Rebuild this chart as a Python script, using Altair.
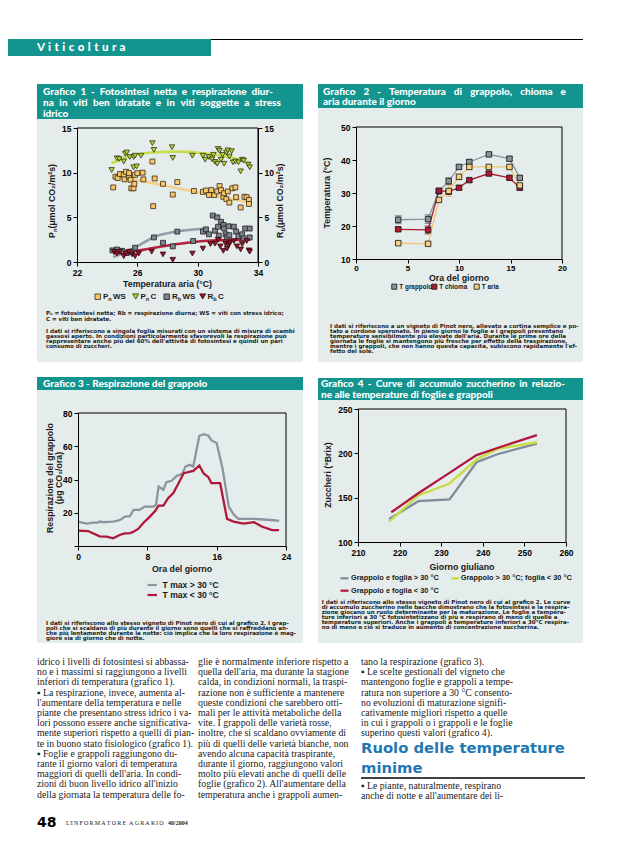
import altair as alt
import pandas as pd

W, H = 622, 832
M = 8


def P(v):
    return v - M


TEAL = "#14948e"
PANEL = "#e4ecec"
INK = "#1a1a1a"
SANS = "Liberation Sans, Arial, DejaVu Sans, sans-serif"
HEAVY = "Lato, DejaVu Sans, sans-serif"
DJB = "DejaVu Sans, sans-serif"
SERIF = "Liberation Serif, DejaVu Serif, serif"
NB = "\u00a0"
TH = "\u2009"
HA = "\u200a"
ONE = alt.Data(values=[{}])

# ---------------- Grafico 1 data ----------------
g1_pn_ws_temp = [24.4, 24.55, 24.7, 24.85, 25.1, 25.15, 25.25, 25.45, 25.45, 25.55, 25.6, 25.75,
                 25.8, 25.85, 26.0, 26.35, 26.4, 27.0, 27.05, 27.15, 27.7, 28.35, 28.65, 29.75,
                 30.35, 30.55, 30.75, 30.9, 31.1, 31.3, 31.45, 31.55, 31.7, 31.75, 31.9, 32.0,
                 32.1, 32.3, 32.5, 32.55, 32.85, 33.1, 33.25, 33.4, 33.4]
g1_pn_ws_val = [8.35, 9.55, 9.4, 9.85, 9.75, 9.25, 10.1, 9.55, 9.95, 9.2, 8.25, 8.25,
                8.75, 9.75, 9.95, 10.0, 9.25, 11.25, 6.25, 9.35, 8.75, 7.55, 8.95, 7.95,
                7.85, 8.0, 7.5, 8.05, 7.5, 7.9, 8.5, 8.05, 7.3, 7.7, 7.05, 7.9,
                6.65, 8.25, 8.35, 7.25, 6.1, 7.3, 7.25, 6.95, 6.5]
g1_pn_c_temp = [24.3, 24.65, 24.8, 25.1, 25.2, 25.3, 25.5, 25.75, 25.85, 25.75, 25.95, 26.25,
                27.0, 27.1, 28.3, 28.35, 29.65, 30.35, 30.5, 30.75, 30.95, 31.05, 31.15, 31.3,
                31.35, 31.45, 31.55, 31.65, 31.75, 31.9, 32.0, 32.1, 32.25, 32.35, 32.5, 32.7,
                32.85, 32.95, 33.05, 33.35, 33.45]
g1_pn_c_val = [10.3, 11.6, 11.55, 11.25, 12.1, 12.25, 11.75, 11.75, 11.9, 10.6, 10.7, 11.9,
               13.3, 12.55, 12.85, 11.65, 11.9, 11.9, 11.45, 11.75, 11.5, 12.0, 11.2, 11.0,
               12.65, 12.45, 11.45, 12.0, 11.0, 12.25, 12.5, 11.8, 12.4, 11.15, 11.25, 11.15,
               10.15, 11.45, 11.35, 10.9, 10.6]
g1_rb_ws_temp = [24.35, 24.65, 25.0, 25.3, 25.55, 25.85, 27.1, 27.7, 28.35, 28.65, 29.7, 30.35,
                 30.55, 30.75, 31.0, 31.15, 31.3, 31.35, 31.4, 31.55, 31.7, 31.75, 31.85, 31.95,
                 32.05, 32.1, 32.4, 32.55, 32.7, 32.95, 33.05, 33.15, 33.45, 33.45]
g1_rb_ws_val = [1.3, 1.4, 1.25, 1.0, 1.15, 1.6, 2.75, 2.15, 1.75, 3.4, 2.35, 3.4,
                3.65, 3.1, 5.2, 3.5, 5.0, 3.95, 2.95, 4.5, 4.15, 3.75, 3.1, 2.8,
                4.0, 3.0, 3.95, 3.4, 2.9, 3.1, 2.65, 3.75, 3.75, 2.75]
g1_rb_c_temp = [24.45, 24.65, 24.85, 25.1, 25.25, 25.45, 25.65, 25.85, 26.1, 26.95, 27.7, 28.35,
                29.65, 30.35, 30.85, 31.15, 31.35, 31.5, 31.7, 31.85, 31.95, 32.05, 32.15, 32.4,
                32.6, 32.85, 32.95, 33.25, 33.4, 33.45]
g1_rb_c_val = [1.15, 0.95, 1.15, 0.65, 0.95, 1.15, 0.85, 0.65, 0.95, 1.15, 0.85, 0.25,
               0.95, 1.5, 2.0, 2.05, 2.5, 1.75, 1.25, 2.05, 1.5, 1.9, 2.15, 2.35,
               1.75, 1.4, 2.0, 2.35, 1.3, 1.15]
# trend curves
g1_fit_pn_c_t = [24.3, 25.5, 27.0, 28.6, 30.2, 31.9, 33.5]
g1_fit_pn_c_v = [11.05, 11.85, 12.25, 12.35, 12.2, 11.8, 11.05]
g1_fit_pn_ws_t = [24.9, 26.0, 27.5, 29.3, 30.8, 32.4, 33.5]
g1_fit_pn_ws_v = [9.55, 9.15, 8.65, 8.05, 7.5, 7.0, 6.65]
g1_fit_rb_ws_t = [24.4, 25.5, 26.3, 27.1, 28.4, 29.5, 30.5]
g1_fit_rb_ws_v = [0.55, 1.3, 2.05, 2.8, 3.35, 3.6, 3.75]
g1_fit_rb_c_t = [24.4, 26.0, 27.5, 29.3, 31.0, 33.5]
g1_fit_rb_c_v = [0.95, 1.25, 1.7, 2.15, 2.4, 2.5]
g1_xticks = [22, 26, 30, 34]
g1_yticks = [0, 5, 10, 15]

# ---------------- Grafico 2 data ----------------
g2_hour = [4.1, 7.0, 8.05, 9.0, 10.0, 11.0, 12.9, 14.9, 15.9]
g2_t_grappolo = [21.9, 22.1, 30.5, 33.6, 37.9, 39.4, 41.7, 40.4, 34.6]
g2_t_chioma = [19.0, 18.8, 30.7, 30.4, 31.6, 33.9, 35.9, 34.6, 31.6]
g2_t_aria = [14.8, 14.6, 27.9, 30.6, 34.9, 37.9, 37.9, 37.9, 32.3]
# half-widths of the error bars (estimated from the figure)
g2_err_grappolo = [1.2, 1.3, 0.6, 1.0, 0.6, 0.7, 0.6, 0.6, 0.7]
g2_err_chioma = [0.5, 1.2, 0.5, 0.5, 0.6, 0.5, 0.5, 0.5, 0.6]
g2_err_aria = [0.4, 0.4, 0.5, 1.6, 0.8, 0.8, 0.4, 0.5, 0.6]
g2_xticks = [0, 5, 10, 15, 20]
g2_yticks = [10, 20, 30, 40, 50]

# ---------------- Grafico 3 data ----------------
g3_hour_hot = [0, 0.97, 1.75, 2.3, 2.5, 2.9, 3.5, 4.05, 4.6, 5.0, 5.4, 6.0, 6.4, 7.1, 7.7, 8.7, 9.0,
               9.3, 9.85, 10.2, 10.8, 11.4, 12.0, 12.4, 12.9, 13.3, 14.0, 14.5, 15.05, 15.4, 16.0,
               16.7, 17.4, 17.95, 18.5, 20.3, 21.0, 22.6, 23.2]
g3_resp_hot = [14.7, 13.5, 14.1, 14.1, 14.7, 14.3, 14.5, 14.7, 15.3, 16.1, 17.7, 17.9, 21.7, 21.7,
               23.7, 23.7, 24.7, 35.8, 33.8, 38.4, 39.2, 42.2, 43.2, 47.8, 48.8, 47.8, 66.3, 67.3,
               66.3, 63.5, 61.9, 46.0, 23.7, 19.1, 16.3, 16.3, 16.1, 15.5, 15.1]
g3_hour_cool = [0, 1.16, 2.5, 3.3, 4.05, 4.8, 5.4, 6.0, 6.4, 6.95, 7.5, 8.3, 8.9, 9.3, 9.85, 10.4,
                11.0, 11.6, 12.2, 12.7, 13.3, 14.0, 14.5, 15.05, 15.4, 16.4, 17.2, 17.95, 19.1,
                20.3, 21.2, 22.4, 23.2]
g3_resp_cool = [9.2, 9.0, 5.8, 5.6, 4.6, 6.6, 7.6, 7.8, 8.6, 10.3, 13.7, 17.7, 21.1, 24.3, 24.3,
                28.8, 31.8, 37.8, 43.8, 44.4, 45.2, 48.4, 43.6, 41.4, 37.8, 37.8, 16.3, 14.7, 13.5,
                14.3, 11.7, 9.6, 9.6]
g3_xticks = [0, 8, 16, 24]
g3_yticks = [0, 20, 40, 60, 80]

# ---------------- Grafico 4 data ----------------
g4_day_hot = [217.5, 224.5, 232, 238.5, 243.5, 253]
g4_brix_hot = [126, 146, 148, 190, 199, 211]
g4_day_mix = [217.5, 224.5, 232, 238.5, 243.5, 253]
g4_brix_mix = [123, 152.5, 166, 193, 205, 212.5]
g4_day_cool = [218, 224.5, 232, 238.5, 243.5, 253]
g4_brix_cool = [133.5, 155, 178, 198, 206, 220.5]
g4_xticks = [210, 220, 230, 240, 250, 260]
g4_yticks = [100, 150, 200, 250]


# ---------------- helpers ----------------
def rect(x0, y0, x1, y1, fill):
    return alt.Chart(ONE).mark_rect(fill=fill).encode(
        x=alt.value(P(x0)), x2=alt.value(P(x1)), y=alt.value(P(y0)), y2=alt.value(P(y1)))


def hline(x0, x1, y, color="black", sw=1.0):
    return alt.Chart(ONE).mark_rule(color=color, strokeWidth=sw).encode(
        x=alt.value(P(x0)), x2=alt.value(P(x1)), y=alt.value(P(y)))


def text(s, x, y, size=8.0, font=SANS, weight="normal", color=INK, align="left",
         angle=None, style=None):
    kw = dict(text=s, fontSize=size, font=font, fontWeight=weight, color=color,
              align=align, baseline="middle")
    if angle is not None:
        kw["angle"] = angle
    if style is not None:
        kw["fontStyle"] = style
    return alt.Chart(ONE).mark_text(**kw).encode(x=alt.value(P(x)), y=alt.value(P(y)))


def block(lines, x, y_first, lh, **kw):
    return [text(s, x, y_first + i * lh, **kw) for i, s in enumerate(lines)]


def justify(s, extra):
    return s.replace(" ", " " + extra)


def sym(x, y, shape, fill, stroke, size):
    return alt.Chart(ONE).mark_point(shape=shape, filled=True, fill=fill, stroke=stroke,
                                     strokeWidth=0.8, size=size, opacity=1).encode(
        x=alt.value(P(x)), y=alt.value(P(y)))


def axis(orient, values, offset, **kw):
    base = dict(orient=orient, values=values, offset=offset, title=None, grid=False,
                labelFont=SANS, labelFontSize=8.5, labelFontWeight="bold",
                labelColor="black", tickColor="black", domainColor="black",
                tickSize=4, labelPadding=2, labelOverlap=False, labelFlush=False,
                domainWidth=1, tickWidth=1, zindex=2)
    base.update(kw)
    return alt.Axis(**base)


def frame(xs, ys, axx, axy, x0, x1, y0, y1):
    top = alt.Chart(ONE).mark_rule(color="black", strokeWidth=1).encode(
        x=alt.XDatum(x0, type="quantitative", scale=xs, axis=axx),
        x2=alt.X2Datum(x1),
        y=alt.YDatum(y1, type="quantitative", scale=ys, axis=axy))
    right = alt.Chart(ONE).mark_rule(color="black", strokeWidth=1).encode(
        x=alt.XDatum(x1, type="quantitative", scale=xs, axis=axx),
        y=alt.YDatum(y0, type="quantitative", scale=ys, axis=axy),
        y2=alt.Y2Datum(y1))
    return [top, right]


def sline(t, v, xs, ys, axx, axy, color, width, interp="linear"):
    df = pd.DataFrame({"x": t, "y": v})
    return alt.Chart(df).mark_line(color=color, strokeWidth=width, interpolate=interp).encode(
        x=alt.X("x:Q", scale=xs, axis=axx), y=alt.Y("y:Q", scale=ys, axis=axy))


def spts(t, v, xs, ys, axx, axy, shape, fill, stroke, size):
    df = pd.DataFrame({"x": t, "y": v})
    return alt.Chart(df).mark_point(shape=shape, filled=True, fill=fill, stroke=stroke,
                                    strokeWidth=0.8, size=size, opacity=1).encode(
        x=alt.X("x:Q", scale=xs, axis=axx), y=alt.Y("y:Q", scale=ys, axis=axy))


def errbars(t, v, e, xs, ys, axx, axy, color):
    df = pd.DataFrame({"x": t, "lo": [a - b for a, b in zip(v, e)],
                       "hi": [a + b for a, b in zip(v, e)]})
    stem = alt.Chart(df).mark_rule(color=color, strokeWidth=0.9).encode(
        x=alt.X("x:Q", scale=xs, axis=axx), y=alt.Y("lo:Q", scale=ys, axis=axy), y2="hi:Q")
    caps = [alt.Chart(df).mark_tick(color=color, orient="horizontal", size=7, thickness=1).encode(
        x=alt.X("x:Q", scale=xs, axis=axx), y=alt.Y(f"{c}:Q", scale=ys, axis=axy))
        for c in ("lo", "hi")]
    return [stem] + caps


def legline(x0, x1, y, color):
    return hline(x0, x1, y, color=color, sw=2.2)


# ---------------- Panel 1 ----------------
C_ORANGE, C_GREEN, C_GREY, C_RED = "#f6c66c", "#b9d334", "#7b8590", "#9c1530"
x1s = alt.Scale(domain=[22, 34], range=[P(77), P(258)], nice=False, zero=False)
y1s = alt.Scale(domain=[0, 15], range=[P(262), P(128)], nice=False, zero=False)
y1s_r = alt.Scale(domain=[0, 15], range=[P(262), P(128)], nice=False, zero=False)
a1x = axis("bottom", g1_xticks, P(262) - H)
a1y = axis("left", g1_yticks, -P(77))
a1yr = axis("right", g1_yticks, P(258) - W)

p1_main = alt.layer(
    sline(g1_fit_pn_c_t, g1_fit_pn_c_v, x1s, y1s, a1x, a1y, "#c9dd4c", 2.6, "monotone"),
    sline(g1_fit_pn_ws_t, g1_fit_pn_ws_v, x1s, y1s, a1x, a1y, "#f6d08a", 2.6, "monotone"),
    sline(g1_fit_rb_ws_t, g1_fit_rb_ws_v, x1s, y1s, a1x, a1y, "#949ca6", 2.6, "monotone"),
    sline(g1_fit_rb_c_t, g1_fit_rb_c_v, x1s, y1s, a1x, a1y, "#b3223f", 2.6, "monotone"),
    spts(g1_pn_c_temp, g1_pn_c_val, x1s, y1s, a1x, a1y, "triangle-down", C_GREEN, "#2c3410", 30),
    spts(g1_pn_ws_temp, g1_pn_ws_val, x1s, y1s, a1x, a1y, "square", C_ORANGE, "#3a2a10", 24),
    spts(g1_rb_ws_temp, g1_rb_ws_val, x1s, y1s, a1x, a1y, "square", C_GREY, "#1e1e1e", 24),
    spts(g1_rb_c_temp, g1_rb_c_val, x1s, y1s, a1x, a1y, "triangle-down", C_RED, "#2a0508", 30),
    *frame(x1s, y1s, a1x, a1y, 22, 34, 0, 15),
)
p1_right = alt.Chart(ONE).mark_point(opacity=0).encode(
    x=alt.value(0), y=alt.YDatum(0, type="quantitative", scale=y1s_r, axis=a1yr))
panel1 = alt.layer(p1_main, p1_right).resolve_scale(y="independent")

# ---------------- Panel 2 ----------------
x2s = alt.Scale(domain=[0, 20], range=[P(356), P(562)], nice=False, zero=False)
y2s = alt.Scale(domain=[10, 50], range=[P(259), P(127)], nice=False, zero=False)
a2x = axis("bottom", g2_xticks, P(259) - H, labelFontSize=8, labelPadding=1)
a2y = axis("left", g2_yticks, -P(356))
G2_GREY, G2_RED, G2_ARIA = "#8a939c", "#ad1a30", "#f7cf82"
panel2 = alt.layer(
    *errbars(g2_hour, g2_t_grappolo, g2_err_grappolo, x2s, y2s, a2x, a2y, "#555b60"),
    *errbars(g2_hour, g2_t_chioma, g2_err_chioma, x2s, y2s, a2x, a2y, "#7a1020"),
    *errbars(g2_hour, g2_t_aria, g2_err_aria, x2s, y2s, a2x, a2y, "#d9a84a"),
    sline(g2_hour, g2_t_grappolo, x2s, y2s, a2x, a2y, G2_GREY, 1.3),
    sline(g2_hour, g2_t_chioma, x2s, y2s, a2x, a2y, G2_RED, 1.3),
    sline(g2_hour, g2_t_aria, x2s, y2s, a2x, a2y, "#f2c46e", 1.3),
    spts(g2_hour, g2_t_grappolo, x2s, y2s, a2x, a2y, "square", G2_GREY, "#111", 30),
    spts(g2_hour, g2_t_chioma, x2s, y2s, a2x, a2y, "square", G2_RED, "#111", 30),
    spts(g2_hour, g2_t_aria, x2s, y2s, a2x, a2y, "square", G2_ARIA, "#111", 30),
    *frame(x2s, y2s, a2x, a2y, 0, 20, 10, 50),
)

# ---------------- Panel 3 ----------------
x3s = alt.Scale(domain=[0, 24], range=[P(78), P(286)], nice=False, zero=False)
y3s = alt.Scale(domain=[0, 80], range=[P(546), P(413)], nice=False, zero=False)
a3x = axis("bottom", g3_xticks, P(546) - H)
a3y = axis("left", g3_yticks, -P(78), labelExpr="datum.value == 0 ? '' : datum.label")
G3_GREY, G3_RED = "#8b95a0", "#b0183a"
panel3 = alt.layer(
    sline(g3_hour_hot, g3_resp_hot, x3s, y3s, a3x, a3y, G3_GREY, 2.3),
    sline(g3_hour_cool, g3_resp_cool, x3s, y3s, a3x, a3y, G3_RED, 2.3),
    *frame(x3s, y3s, a3x, a3y, 0, 24, 0, 80),
)

# ---------------- Panel 4 ----------------
x4s = alt.Scale(domain=[210, 260], range=[P(358), P(566)], nice=False, zero=False)
y4s = alt.Scale(domain=[100, 250], range=[P(542), P(409)], nice=False, zero=False)
a4x = axis("bottom", g4_xticks, P(542) - H)
a4y = axis("left", g4_yticks, -P(358))
G4_GREY, G4_GREEN, G4_RED = "#7f8b96", "#c8dc44", "#b3173b"
panel4 = alt.layer(
    sline(g4_day_hot, g4_brix_hot, x4s, y4s, a4x, a4y, G4_GREY, 2.3),
    sline(g4_day_mix, g4_brix_mix, x4s, y4s, a4x, a4y, G4_GREEN, 2.3),
    sline(g4_day_cool, g4_brix_cool, x4s, y4s, a4x, a4y, G4_RED, 2.3),
    *frame(x4s, y4s, a4x, a4y, 210, 260, 100, 250),
)

# ---------------- page decorations ----------------
bg = [
    rect(0, 39, 211, 56, TEAL),
    hline(211, 583, 39.5, "black", 1.2),
    rect(37, 84, 303, 119, TEAL), rect(37, 119, 303, 362, PANEL),
    rect(318, 84, 583, 108, TEAL), rect(318, 108, 583, 362, PANEL),
    rect(37, 377, 303, 390, TEAL), rect(37, 390, 303, 643, PANEL),
    rect(318, 378, 583, 400, TEAL), rect(318, 400, 583, 643, PANEL),
]

TK = dict(size=10, font=HEAVY, weight=900, color="white")
HEADER = (NB + HA).join("Viticoltura")
titles = [
    text(HEADER, 37, 47.5, size=11.5, font=HEAVY, weight=900, color="white"),
    text(justify("Grafico 1 - Fotosintesi netta e respirazione diur-", TH + TH), 43, 91.5, **TK),
    text(justify("na in viti ben idratate e in viti soggette a stress", TH + TH + HA), 43, 102.5,
         **TK),
    text("idrico", 43, 113.5, **TK),
    text(justify("Grafico 2 - Temperatura di grappolo, chioma e", TH * 4 + HA), 323, 91.5, **TK),
    text("aria durante il giorno", 323, 102.3, **TK),
    text("Grafico 3 - Respirazione del grappolo", 43, 383.5, **TK),
    text(justify("Grafico 4 - Curve di accumulo zuccherino in relazio-", TH + HA), 321, 383.6,
         **TK),
    text("ne alle temperature di foglie e grappoli", 321, 394.5, **TK),
]

AT = dict(size=8.8, weight=600, color=INK)
ATS = dict(size=6, weight=600, color=INK)
axis_titles = [
    text("Temperatura aria (°C)", 167.5, 284, align="center", **AT),
    text("P", 52, 238, angle=270, **AT),
    text("n", 54.5, 232, angle=270, **ATS),
    text(NB + "(μmol CO₂/m²s)", 52, 228.5, angle=270, **AT),
    text("R", 280, 238, angle=270, **AT),
    text("b", 282.5, 231.6, angle=270, **ATS),
    text(NB + "(μmol CO₂/m²s)", 280, 228, angle=270, **AT),
    text("Ora del giorno", 459, 278, align="center", **AT),
    text("Temperatura (°C)", 327, 193, align="center", angle=270, **AT),
    text("Ora del giorno", 182, 568.5, align="center", **AT),
    text("Respirazione del grappolo", 50, 478, align="center", angle=270, **AT),
    text("(μg CO₂/ora)", 58.8, 478, align="center", angle=270, **AT),
    text("Giorno giuliano", 462, 566.5, align="center", **AT),
    text("Zuccheri (°Brix)", 328, 475, align="center", angle=270, **AT),
]

LT = dict(size=8, weight=600, color=INK)
LS = dict(size=5.5, weight=600, color=INK)
L2 = dict(size=6.4, weight=600, color=INK)
L3 = dict(size=8.6, weight=600, color=INK)
L4 = dict(size=7.4, weight=600, color=INK)
legends = [
    sym(97.7, 296.7, "square", C_ORANGE, "#3a2a10", 30),
    text("P", 103, 296.7, **LT), text("n", 108.3, 298.7, **LS),
    text("WS", 113, 296.7, **LT),
    sym(135.7, 296.5, "triangle-down", C_GREEN, "#2c3410", 36),
    text("P", 140.5, 296.7, **LT), text("n", 145.8, 298.7, **LS),
    text("C", 150.5, 296.7, **LT),
    sym(166.7, 296.7, "square", C_GREY, "#1e1e1e", 30),
    text("R", 172, 296.7, **LT), text("b", 177.7, 298.7, **LS),
    text("WS", 182.5, 296.7, **LT),
    sym(202.7, 296.5, "triangle-down", C_RED, "#2a0508", 36),
    text("R", 207.5, 296.7, **LT), text("b", 213.2, 298.7, **LS),
    text("C", 218, 296.7, **LT),

    sym(394.3, 286.7, "square", G2_GREY, "#111", 26),
    text("T grappolo", 399.3, 286.7, **L2),
    sym(434.3, 286.7, "square", G2_RED, "#111", 26),
    text("T chioma", 439.2, 286.7, **L2),
    sym(476.7, 286.7, "square", G2_ARIA, "#111", 26),
    text("T aria", 481.7, 286.7, **L2),

    legline(147.5, 157, 585, G3_GREY),
    text("T max > 30 °C", 162.5, 585, **L3),
    legline(147.5, 157, 595, G3_RED),
    text("T max < 30 °C", 162.5, 595, **L3),

    legline(340.5, 348.5, 578.3, G4_GREY),
    text("Grappolo e foglia > 30 °C", 351, 578.3, **L4),
    legline(451.5, 459, 578.3, G4_GREEN),
    text("Grappolo > 30 °C; foglia < 30 °C", 460.7, 578.3, **L4),
    legline(340.5, 348.5, 590.7, G4_RED),
    text("Grappolo e foglia < 30 °C", 351, 590.7, **L4),
]

CT = dict(size=5.55, font=DJB, weight="bold", color="#222222")
CL = 5.05
captions = (
    block(["Pₙ = fotosintesi netta; Rb = respirazione diurna; WS = viti con stress idrico;",
           "C = viti ben idratate."], 46, 313.3, 5.4, **CT)
    + block(["I dati si riferiscono a singola foglia misurati con un sistema di misura di scambi",
             "gassosi aperto. In condizioni particolarmente sfavorevoli la respirazione può",
             "rappresentare anche più del 60% dell'attività di fotosintesi e quindi un pari",
             "consumo di zuccheri."], 46, 330.7, CL, **CT)
    + block(["I dati si riferiscono a un vigneto di Pinot nero, allevato a cortina semplice e po-",
             "tato a cordone speronato. In pieno giorno le foglie e i grappoli presentano",
             "temperature sensibilmente più elevate dell'aria. Durante le prime ore della",
             "giornata le foglie si mantengono più fresche per effetto della traspirazione,",
             "mentre i grappoli, che non hanno questa capacità, subiscono rapidamente l'ef-",
             "fetto del sole."], 330, 325.7, CL, **CT)
    + block(["I dati si riferiscono allo stesso vigneto di Pinot nero di cui al grafico 2. I grap-",
             "poli che si scaldano di più durante il giorno sono quelli che si raffreddano an-",
             "che più lentamente durante la notte: ciò implica che la loro respirazione è mag-",
             "giore sia di giorno che di notte."], 46, 623.3, CL, **CT)
    + block(["I dati si riferiscono allo stesso vigneto di Pinot nero di cui al grafico 2. Le curve",
             "di accumulo zuccherino nelle bacche dimostrano che la fotosintesi e la respira-",
             "zione giocano un ruolo determinante per la maturazione. Le foglie a tempera-",
             "ture inferiori a 30 °C fotosintetizzano di più e respirano di meno di quelle a",
             "temperature superiori. Anche i grappoli a temperature inferiori a 30°C respira-",
             "no di meno e ciò si traduce in aumento di concentrazione zuccherina."],
            321.7, 601.7, CL, **CT)
)

BT = dict(size=9.8, font=SERIF, color=INK)
BL = 10.2
col1 = ["idrico i livelli di fotosintesi si abbassa-",
        "no e i massimi si raggiungono a livelli",
        "inferiori di temperatura (grafico 1).",
        "\u25aa La respirazione, invece, aumenta al-",
        "l'aumentare della temperatura e nelle",
        "piante che presentano stress idrico i va-",
        "lori possono essere anche significativa-",
        "mente superiori rispetto a quelli di pian-",
        "te in buono stato fisiologico (grafico 1).",
        "\u25aa Foglie e grappoli raggiungono du-",
        "rante il giorno valori di temperatura",
        "maggiori di quelli dell'aria. In condi-",
        "zioni di buon livello idrico all'inizio",
        "della giornata la temperatura delle fo-"]
col2 = ["glie è normalmente inferiore rispetto a",
        "quella dell'aria, ma durante la stagione",
        "calda, in condizioni normali, la traspi-",
        "razione non è sufficiente a mantenere",
        "queste condizioni che sarebbero otti-",
        "mali per le attività metaboliche della",
        "vite. I grappoli delle varietà rosse,",
        "inoltre, che si scaldano ovviamente di",
        "più di quelli delle varietà bianche, non",
        "avendo alcuna capacità traspirante,",
        "durante il giorno, raggiungono valori",
        "molto più elevati anche di quelli delle",
        "foglie (grafico 2). All'aumentare della",
        "temperatura anche i grappoli aumen-"]
col3a = ["tano la respirazione (grafico 3).",
         "\u25aa Le scelte gestionali del vigneto che",
         "mantengono foglie e grappoli a tempe-",
         "ratura non superiore a 30 °C consento-",
         "no evoluzioni di maturazione signifi-",
         "cativamente migliori rispetto a quelle",
         "in cui i grappoli o i grappoli e le foglie",
         "superino questi valori (grafico 4)."]
col3b = ["\u25aa Le piante, naturalmente, respirano",
         "anche di notte e all'aumentare dei li-"]

FOOT = "L'" + TH.join("INFORMATORE") + NB + NB + TH.join("AGRARIO")
body = (
    block(col1, 37, 662, BL, **BT)
    + block(col2, 198, 662, BL, **BT)
    + block(col3a, 361, 662, BL, **BT)
    + [text("Ruolo delle temperature", 361, 749, size=14.8, font=DJB, weight="bold",
            color="#2277b3"),
       text("minime", 361, 768.5, size=14.8, font=DJB, weight="bold", color="#2277b3"),
       hline(361, 585, 778, "black", 1.4)]
    + block(col3b, 361, 785.6, BL, **BT)
    + [text("48", 37, 823, size=14, font=DJB, weight="bold", color="black"),
       text(FOOT, 66, 823, size=6, font=SERIF, color=INK),
       text("40/2004", 168, 823, size=6, font=SERIF, weight="bold", color=INK)]
)

layers = bg + [panel1, panel2, panel3, panel4] + titles + axis_titles + legends + captions + body

chart = alt.layer(*layers).resolve_scale(
    x="independent", y="independent"
).properties(
    width=W, height=H, padding=0, autosize=alt.AutoSizeParams(type="none")
).configure_view(stroke=None)

chart.save("out.html", embed_options={"renderer": "svg", "actions": False})
